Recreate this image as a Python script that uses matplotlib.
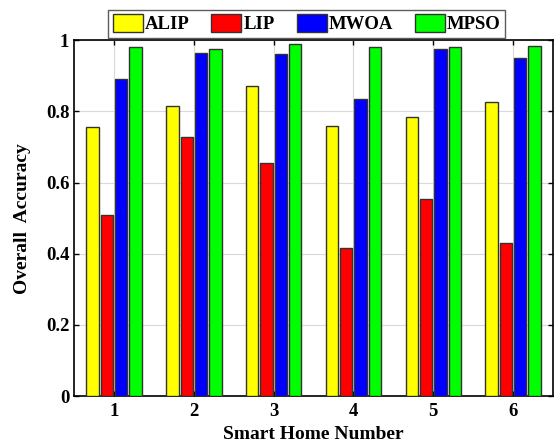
import matplotlib.pyplot as plt
import numpy as np

homes = [1, 2, 3, 4, 5, 6]
alip = [0.755, 0.815, 0.870, 0.760, 0.785, 0.825]
lip = [0.510, 0.727, 0.655, 0.415, 0.555, 0.430]
mwoa = [0.890, 0.965, 0.960, 0.835, 0.975, 0.950]
mpso = [0.980, 0.975, 0.990, 0.980, 0.980, 0.985]

series = [("ALIP", alip, "#ffff00"),
          ("LIP", lip, "#ff0000"),
          ("MWOA", mwoa, "#0000ff"),
          ("MPSO", mpso, "#00ff00")]

plt.rcParams['font.family'] = ['Liberation Serif', 'DejaVu Serif']
plt.rcParams['font.weight'] = 'bold'

fig = plt.figure(figsize=(5.54, 4.47), dpi=100)
ax = fig.add_axes([0.134, 0.114, 0.864, 0.796])

x = np.array(homes)
slot = 0.18
width = 0.155
for i, (name, vals, col) in enumerate(series):
    ax.bar(x + (i - 1.5) * slot, vals, width, color=col, edgecolor='#333333',
           linewidth=1.0, label=name, zorder=3)

ax.set_xlim(0.5, 6.5)
ax.set_ylim(0, 1)
ax.set_xticks(homes)
ax.set_yticks([0, 0.2, 0.4, 0.6, 0.8, 1])
ax.set_yticklabels(["0", "0.2", "0.4", "0.6", "0.8", "1"])
ax.tick_params(direction='in', top=True, right=True, labelsize=13.5, width=1)
ax.tick_params(axis='x', pad=5)
ax.grid(True, color='#d9d9d9', linewidth=0.8, zorder=0)
for s in ax.spines.values():
    s.set_linewidth(1.2)

ax.set_xlabel("Smart Home Number", fontsize=14, fontweight='bold', labelpad=4)
ax.set_ylabel("Overall  Accuracy", fontsize=14, fontweight='bold', labelpad=11)

leg = fig.legend(loc='lower left', bbox_to_anchor=(0.195, 0.915, 0.717, 0.063),
                 mode='expand', ncol=4, fontsize=13.5, frameon=True,
                 fancybox=False, edgecolor='#333333', handlelength=1.6,
                 handleheight=1.05, handletextpad=0.1, borderpad=0.25,
                 borderaxespad=0)
leg.get_frame().set_linewidth(1.0)

fig.savefig("out.png", dpi=100)
